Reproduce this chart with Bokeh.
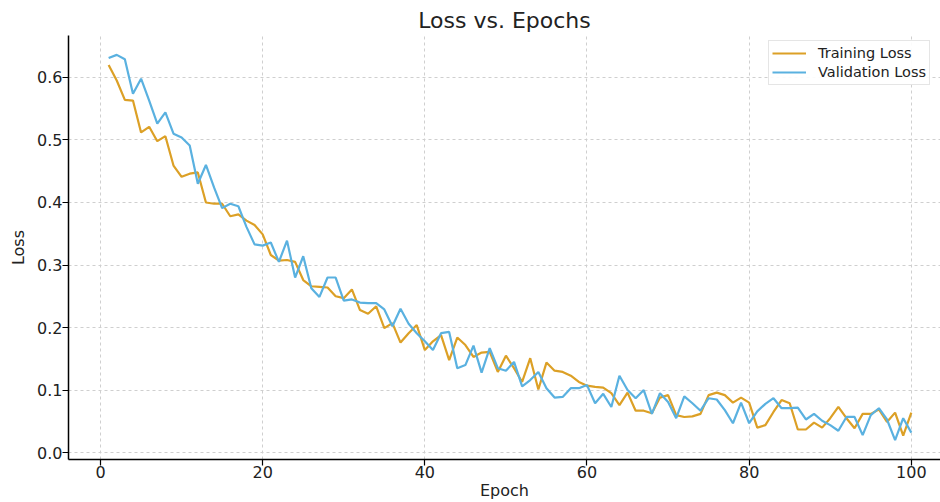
from bokeh.plotting import figure
from bokeh.models import FixedTicker, Range1d, Legend, LegendItem, ColumnDataSource
from bokeh.embed import file_html
from bokeh.resources import INLINE

epochs = list(range(1, 101))
training_loss = [
    0.620, 0.595, 0.564, 0.563, 0.512, 0.521, 0.498, 0.506, 0.459, 0.441,
    0.446, 0.448, 0.400, 0.398, 0.398, 0.378, 0.381, 0.371, 0.364, 0.349,
    0.316, 0.307, 0.308, 0.305, 0.276, 0.266, 0.265, 0.264, 0.250, 0.247,
    0.261, 0.228, 0.222, 0.234, 0.199, 0.207, 0.176, 0.191, 0.204, 0.164,
    0.178, 0.188, 0.148, 0.184, 0.172, 0.153, 0.160, 0.161, 0.129, 0.155,
    0.135, 0.113, 0.151, 0.101, 0.144, 0.131, 0.129, 0.123, 0.113, 0.107,
    0.105, 0.104, 0.095, 0.076, 0.096, 0.067, 0.067, 0.063, 0.088, 0.092,
    0.060, 0.057, 0.058, 0.062, 0.092, 0.096, 0.092, 0.080, 0.088, 0.080,
    0.040, 0.044, 0.065, 0.084, 0.079, 0.037, 0.037, 0.048, 0.040, 0.055,
    0.073, 0.055, 0.039, 0.062, 0.062, 0.069, 0.049, 0.064, 0.027, 0.064,
]
validation_loss = [
    0.631, 0.636, 0.629, 0.574, 0.598, 0.563, 0.526, 0.544, 0.510, 0.504,
    0.491, 0.430, 0.460, 0.424, 0.391, 0.398, 0.394, 0.361, 0.333, 0.331,
    0.336, 0.305, 0.339, 0.280, 0.314, 0.263, 0.249, 0.280, 0.280, 0.243,
    0.245, 0.240, 0.239, 0.239, 0.229, 0.202, 0.230, 0.206, 0.191, 0.178,
    0.164, 0.191, 0.193, 0.135, 0.140, 0.171, 0.128, 0.167, 0.135, 0.131,
    0.145, 0.106, 0.116, 0.129, 0.103, 0.088, 0.089, 0.103, 0.103, 0.108,
    0.079, 0.094, 0.073, 0.123, 0.100, 0.087, 0.100, 0.062, 0.095, 0.081,
    0.055, 0.090, 0.079, 0.067, 0.087, 0.085, 0.068, 0.047, 0.080, 0.047,
    0.066, 0.078, 0.087, 0.071, 0.071, 0.072, 0.053, 0.062, 0.051, 0.044,
    0.035, 0.057, 0.057, 0.028, 0.060, 0.071, 0.053, 0.020, 0.055, 0.032,
]
x_ticks = [0, 20, 40, 60, 80, 100]
y_ticks = [0.0, 0.1, 0.2, 0.3, 0.4, 0.5, 0.6]
y_tick_labels = ["0.0", "0.1", "0.2", "0.3", "0.4", "0.5", "0.6"]

FONT = "DejaVu Sans"
ORANGE = "#DCA026"
BLUE = "#5AB1E0"

src = ColumnDataSource(dict(epoch=epochs, train=training_loss, val=validation_loss))

p = figure(width=940, height=502, output_backend="svg", toolbar_location=None,
           x_range=Range1d(-3.95, 103.6), y_range=Range1d(-0.011, 0.667),
           min_border_left=68, min_border_right=0, min_border_top=35,
           min_border_bottom=42)
p.outline_line_color = None
p.background_fill_color = "white"
p.border_fill_color = "white"

p.title.text = "Loss vs. Epochs"
p.title.align = "center"
p.title.text_font = FONT
p.title.text_font_size = "22px"
p.title.text_font_style = "normal"
p.title.text_color = "#222222"
p.title.offset = 5
p.title.standoff = 6

r1 = p.line("epoch", "train", source=src, line_color=ORANGE, line_width=2.2)
r2 = p.line("epoch", "val", source=src, line_color=BLUE, line_width=2.2)

for ax in (p.xaxis[0], p.yaxis[0]):
    ax.axis_line_color = "black"
    ax.axis_line_width = 1.5
    ax.major_tick_line_color = "black"
    ax.major_tick_line_width = 1.2
    ax.major_tick_out = 6
    ax.major_tick_in = 0
    ax.minor_tick_line_color = None
    ax.major_label_text_font = FONT
    ax.major_label_text_font_size = "16px"
    ax.major_label_text_color = "#222222"
    ax.axis_label_text_font = FONT
    ax.axis_label_text_font_size = "16px"
    ax.axis_label_text_font_style = "normal"
    ax.axis_label_text_color = "#222222"
    ax.major_label_standoff = 0

p.xaxis[0].ticker = FixedTicker(ticks=x_ticks)
p.yaxis[0].ticker = FixedTicker(ticks=y_ticks)
p.yaxis[0].major_label_overrides = {t: l for t, l in zip(y_ticks, y_tick_labels)}
p.xaxis[0].axis_label = "Epoch"
p.yaxis[0].axis_label = "Loss"
p.xaxis[0].axis_label_standoff = 0
p.yaxis[0].axis_label_standoff = 6

for g in (p.xgrid[0], p.ygrid[0]):
    g.grid_line_color = "#cfcfcf"
    g.grid_line_dash = "3 3"
    g.grid_line_width = 1

legend = Legend(items=[LegendItem(label="Training Loss", renderers=[r1]),
                       LegendItem(label="Validation Loss", renderers=[r2])],
                location=(700, 374))
legend.label_text_font = FONT
legend.label_text_font_size = "14.5px"
legend.label_text_color = "#222222"
legend.glyph_width = 34
legend.glyph_height = 18
legend.label_height = 18
legend.label_standoff = 12
legend.spacing = 1
legend.padding = 3
legend.margin = 0
legend.border_line_color = "#cccccc"
legend.border_line_width = 1.2
legend.background_fill_alpha = 0.9
p.add_layout(legend, "center")

open("out.html", "w").write(file_html(p, INLINE))
